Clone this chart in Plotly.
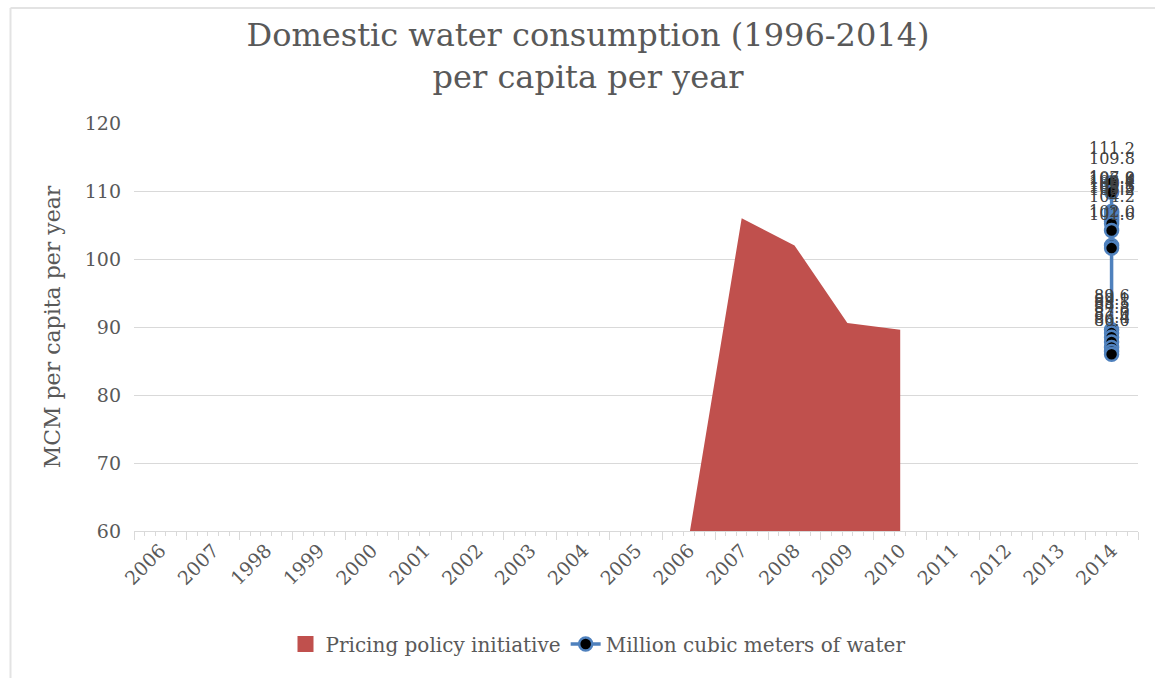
import plotly.graph_objects as go

# ---- data ----
categories = ["2006", "2007", "1998", "1999", "2000", "2001", "2002", "2003", "2004",
              "2005", "2006", "2007", "2008", "2009", "2010", "2011", "2012", "2013", "2014"]
pricing_idx = [10, 11, 12, 13, 14]
pricing_values = [59.0, 106.0, 102.0, 90.6, 89.6]
water_idx = 18
water_values = [111.2, 109.8, 107.0, 106.8, 106.4, 106.1, 105.8, 105.5, 105.2, 104.2,
                102.0, 101.6, 89.6, 89.1, 88.5, 87.8, 87.0, 86.4, 86.0]

W, H = 1155, 678
ML, MR, MT, MB = 134, 17, 123, 147
FONT = "DejaVu Serif"
GREY = "#595959"
RED = "#C0504D"
BLUE = "#4F81BD"

fig = go.Figure()
fig.add_trace(go.Scatter(
    x=pricing_idx, y=pricing_values, mode="none", fill="tozeroy",
    fillcolor=RED, name="Pricing policy initiative", showlegend=False,
    legendgroup="pricing"))
# legend swatch for the area series (square like the original)
fig.add_trace(go.Scatter(
    x=[None], y=[None], mode="markers", name="Pricing policy initiative",
    marker=dict(symbol="square", size=17, color=RED), legendgroup="pricing"))
fig.add_trace(go.Scatter(
    x=[water_idx] * len(water_values), y=water_values, mode="lines+markers",
    line=dict(color=BLUE, width=3.5),
    marker=dict(color="black", size=13, line=dict(color=BLUE, width=2.5)),
    name="Million cubic meters of water"))
# helper trace for the boundary-tick axis
fig.add_trace(go.Scatter(x=[-0.5, len(categories) - 0.5], y=[None, None], xaxis="x2",
                         showlegend=False, hoverinfo="skip", mode="lines"))

annotations = []
for v in water_values:
    annotations.append(dict(x=water_idx, y=v, text=f"{v}", showarrow=False, yshift=34,
                            font=dict(family=FONT, size=16, color="#404040")))

pw = (W - ML - MR)
ph = (H - MT - MB)
def px(x):
    return (x - ML) / pw
def py(y):
    return (H - MB - y) / ph

fig.update_layout(
    width=W, height=H,
    margin=dict(l=ML, r=MR, t=MT, b=MB),
    paper_bgcolor="white", plot_bgcolor="white",
    font=dict(family=FONT, color=GREY),
    title=dict(text="Domestic water consumption (1996-2014)<br>per capita per year",
               x=588 / W, xref="container", xanchor="center",
               y=1 - 46 / H, yref="container", yanchor="middle",
               font=dict(family=FONT, size=32, color=GREY)),
    xaxis=dict(range=[-0.5, len(categories) - 0.5], tickmode="array",
               tickvals=list(range(len(categories))), ticktext=categories,
               tickangle=-45, ticks="", showgrid=False, zeroline=False,
               showline=True, linecolor="#d9d9d9", linewidth=1,
               tickfont=dict(family=FONT, size=19, color=GREY)),
    xaxis2=dict(overlaying="x", matches="x", side="bottom", tickmode="array",
                tickvals=[i - 0.5 for i in range(len(categories) + 1)],
                ticks="outside", ticklen=8, tickcolor="#d9d9d9", tickwidth=1,
                showticklabels=False, showgrid=False, zeroline=False, showline=False,
                minor=dict(tickmode="linear", tick0=-0.5, dtick=0.2, ticks="outside",
                           ticklen=4, tickcolor="#d9d9d9", tickwidth=1, showgrid=False)),
    yaxis=dict(range=[60, 120], dtick=10, showgrid=True, gridcolor="#d9d9d9",
               gridwidth=1, zeroline=False, showline=False, ticks="",
               ticklabelstandoff=12,
               tickfont=dict(family=FONT, size=19, color=GREY),
               title=dict(text="MCM per capita per year", standoff=18,
                          font=dict(family=FONT, size=22, color=GREY))),
    legend=dict(orientation="h", x=598 / W, xref="container", xanchor="center",
                y=1 - 644 / H, yref="container", yanchor="middle",
                font=dict(family=FONT, size=20, color=GREY), itemwidth=30),
    annotations=annotations,
    shapes=[
        dict(type="line", xref="paper", yref="paper", x0=px(10.5), x1=px(W + 5),
             y0=py(8), y1=py(8), line=dict(color="#e3e3e3", width=2)),
        dict(type="line", xref="paper", yref="paper", x0=px(10.5), x1=px(10.5),
             y0=py(8), y1=py(H + 5), line=dict(color="#e3e3e3", width=2)),
    ],
    showlegend=True,
)

fig.write_html("out.html", config={"displayModeBar": False},
               post_script="document.body.style.margin='0';")
